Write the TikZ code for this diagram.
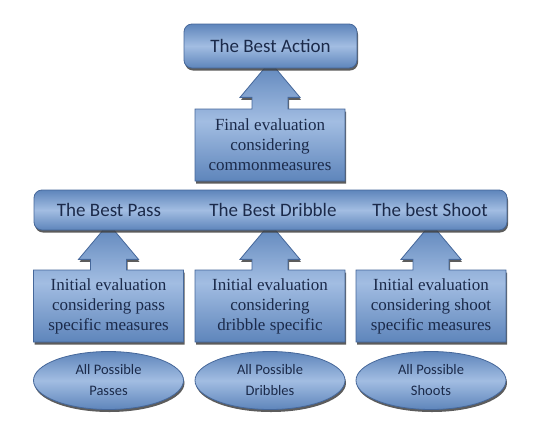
\documentclass[tikz,border=0pt]{standalone}
\usepackage{fontspec}
\setmainfont{Liberation Serif}
\setsansfont{Carlito}
\usetikzlibrary{shapes.arrows,shapes.geometric,shadows}

\definecolor{navy}{HTML}{1B2A4A}
\definecolor{edgeblue}{HTML}{45679A}
\definecolor{lightblue}{HTML}{A2BDE2}
\definecolor{deepblue}{HTML}{5E85BB}

\tikzset{
  blueshade/.style={draw=edgeblue, line width=0.8pt, top color=deepblue, bottom color=deepblue, middle color=lightblue,
    text=navy, drop shadow={shadow xshift=1pt, shadow yshift=-2.5pt, fill=black!75, opacity=.85}},
  titlebox/.style={blueshade, rounded corners=8pt, inner sep=0pt, font=\sffamily\fontsize{19}{21}\selectfont},
  evalbox/.style={blueshade, shape=arrow box, minimum width=150pt, minimum height=72pt, inner sep=0pt, align=center,
    arrow box arrows={north:#1 from border}, arrow box shaft width=36pt, arrow box head extend=12pt,
    arrow box tip angle=80, font=\fontsize{17}{20}\selectfont},
  movebox/.style={blueshade, ellipse, minimum width=150pt, minimum height=58pt, inner sep=0pt, align=center,
    font=\sffamily\fontsize{14.5}{21}\selectfont},
  bestlabel/.style={text=navy, font=\sffamily\fontsize{19}{21}\selectfont}
}

\begin{document}
\begin{tikzpicture}[x=1pt,y=-1pt]
\useasboundingbox (0,0) rectangle (533,424);

% lower level: candidate moves and their first evaluation
\foreach \cx/\name/\evaltext/\movetext in {
    108.5/pass/{Initial evaluation\\considering pass\\specific measures}/{All Possible\\Passes},
    270/dribble/{Initial evaluation\\considering\\dribble specific}/{All Possible\\Dribbles},
    431/shoot/{Initial evaluation\\considering shoot\\specific measures}/{All Possible\\Shoots}} {
  \node[evalbox=46pt] (init-\name) at (\cx,306) {\evaltext};
  \node[movebox] (all-\name) at (\cx,380.5) {\movetext};
}

% final evaluation feeding the best action
\node[evalbox=47pt] (final) at (270,145) {Final evaluation\\considering\\commonmeasures};

% the bars on top of the arrows
\node[titlebox, minimum width=473pt, minimum height=40pt] (bestbar) at (270.5,210) {};
\node[bestlabel] (best-pass) at (109,210) {The Best Pass};
\node[bestlabel] (best-dribble) at (273,210) {The Best Dribble};
\node[bestlabel] (best-shoot) at (430,210) {The best Shoot};

\node[titlebox, minimum width=173pt, minimum height=44pt] (action) at (270.5,46) {The Best Action};
\end{tikzpicture}
\end{document}
